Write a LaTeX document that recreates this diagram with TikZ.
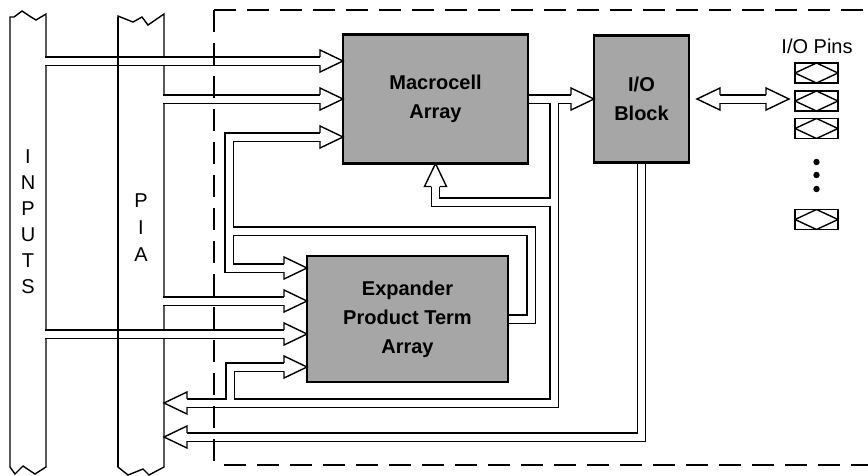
\documentclass[tikz,border=0pt]{standalone}
\usepackage{fontspec}
\setmainfont{Liberation Sans}
\usetikzlibrary{positioning, calc, backgrounds}

\tikzset{
    head/.pic={
        \fill[white] (0,0) -- (-23,11) -- (-23,-11) -- cycle;
        \draw[line width=1.4pt, line join=miter] (-23,4.2) -- (-23,11) -- (0,0) -- (-23,-11) -- (-23,-4.2);
    }
}

\begin{document}
\begin{tikzpicture}[
    x=1pt, y=-1pt,
    barline/.style={line width=1.4pt, line join=miter},
    bar/.style={rectangle, inner sep=0pt, outer sep=0pt, minimum width=36pt, minimum height=450pt},
    barname/.style={align=center, inner sep=0pt, font=\fontsize{20}{26}\selectfont},
    block/.style={rectangle, draw, line width=2.2pt, fill=black!35, inner sep=0pt, outer sep=0pt,
        align=center, font=\bfseries\fontsize{20}{29}\selectfont},
    iopin/.style={rectangle, draw, line width=1.4pt, inner sep=0pt, outer sep=0pt,
        minimum width=43pt, minimum height=20pt,
        path picture={\draw[line width=1.4pt] (path picture bounding box.west) -- (path picture bounding box.north)
            -- (path picture bounding box.east) -- (path picture bounding box.south) -- cycle;}},
    from bar/.style={shorten <=-0.7pt},
    to head/.style={shorten >=23pt}
]
\useasboundingbox (0,0) rectangle (868,475);

\node [bar] (inputs) at (28,242) {};
\node [bar, minimum width=46pt] (pia) at (141,242) {};
\node [barname] (inputsname) at (28,222) {I\\N\\P\\U\\T\\S};
\node [barname, font=\fontsize{20}{27}\selectfont] (pianame) at (141,228) {P\\I\\A};

\node [block, minimum width=185pt, minimum height=129pt] (mc) at (435.5,99) {Macrocell\\Array};
\node [block, minimum width=95pt, minimum height=127pt, right=66pt of mc] (io) {I/O\\Block};
\node [block, minimum width=201pt, minimum height=126pt] (exp) at (407.5,319) {Expander\\Product Term\\Array};

\node [iopin] (pin1) at (816.5,73) {};
\node [iopin, below=8pt of pin1] (pin2) {};
\node [iopin, below=7.5pt of pin2] (pin3) {};
\node [iopin, below=71pt of pin3] (pin4) {};
\node [font=\fontsize{20}{24}\selectfont] (pinslabel) at (817,46) {I/O Pins};
\foreach \y in {162,175,189}
    \fill (816.5,\y) circle (3.2pt);

\begin{scope}[on background layer]
    % bars
    \draw[barline] (10,467) -- (10,17) -- (14,17) -- (22,11) -- (31,17) -- (36,20) -- (46,14)
        -- (46,467) -- (35,474) -- (23,466) -- (15,474) -- cycle;
    \draw[barline] (118,467) -- (118,16) -- (133,22) -- (142,17) -- (148,25) -- (164,14)
        -- (164,467) -- (149,475) -- (143,469) -- (128,475) -- cycle;
    % buses: outline first, then inside
    \foreach \w/\c in {9.8pt/black, 7pt/white} {
        \begin{scope}[line width=\w, draw=\c]
        \draw[from bar, to head] (inputs.east |- 0,61) -- (mc.west |- 0,61);
        \draw[from bar, to head] (pia.east |- 0,99) -- (mc.west);
        \draw[from bar, to head] (pia.east |- 0,301) -- (exp.west |- 0,301);
        \draw[from bar, to head] (inputs.east |- 0,334) -- (exp.west |- 0,334);
        \draw[to head] (mc.east) -- (io.west);
        \draw[to head] (554,99) |- (pia.east |- 0,403);
        \draw[to head] (554,202) -| (mc.south);
        \draw[to head] (exp.east) -| (531,231) -| (229,137) -- (mc.west |- 0,137);
        \draw[to head] (229,231) |- (exp.west |- 0,268);
        \draw[to head] (230,403) |- (exp.west |- 0,367);
        \draw[to head] (io.south) |- (pia.east |- 0,437);
        \draw[shorten <=31pt, shorten >=29pt] (io.east) -- (io.east -| pin2.west);
        \end{scope}
    }
\end{scope}

\draw[barline] (pia.north west) -- (pia.south west);
\draw[barline, dash pattern=on 22pt off 11pt] (214,10) -- (214,465);
\draw[barline, dash pattern=on 22pt off 11pt] (214,10) -- (880,10);
\draw[barline, dash pattern=on 22pt off 11pt] (224,465) -- (880,465);

% arrow heads
\foreach \y in {61,99,137}
    \pic at (mc.west |- 0,\y) {head};
\foreach \y in {268,301,334,367}
    \pic at (exp.west |- 0,\y) {head};
\foreach \y in {403,437}
    \pic[rotate=180] at (pia.east |- 0,\y) {head};
\pic[rotate=90] at (mc.south) {head};
\pic at (io.west) {head};
\pic[rotate=180] at ($(io.east)+(8,0)$) {head};
\pic at ($(io.east -| pin2.west)+(-6,0)$) {head};
\end{tikzpicture}
\end{document}
